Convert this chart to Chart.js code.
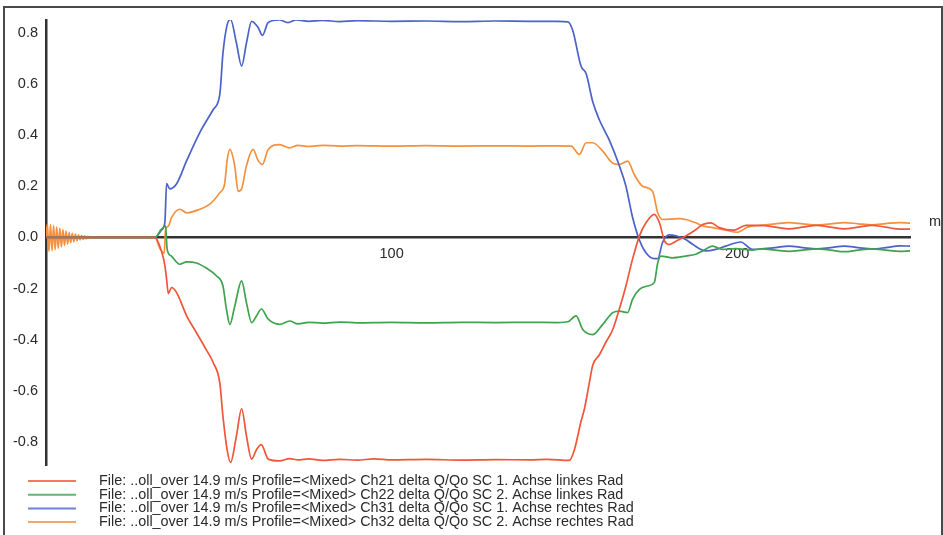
<!DOCTYPE html>
<html>
<head>
<meta charset="utf-8">
<title>delta Q/Qo</title>
<script src="https://cdn.jsdelivr.net/npm/chart.js@4.4.1/dist/chart.umd.min.js"></script>
<style>
  html, body { margin: 0; padding: 0; background: #fff; overflow: hidden; }
  #wrap { position: relative; width: 943px; height: 535px; }
  #frame {
    position: absolute; left: 3px; top: 6px; width: 936px; height: 600px;
    border: 2px solid #4a4a4a; pointer-events: none;
  }
  canvas { position: absolute; left: 0; top: 0; }
</style>
</head>
<body>
<div id="wrap">
  <canvas id="plot" width="943" height="535"></canvas>
  <div id="frame"></div>
</div>
<script>
// distance [m], delta Q/Qo
const ch21 = [
  [0, 0], [31.5, 0], [33.4, -0.053], [34.4, -0.11], [34.9, -0.164], [35.4, -0.22], [36.3, -0.196],
  [37.8, -0.216], [40.7, -0.307], [43.5, -0.372], [46.4, -0.44], [48.4, -0.49], [50.3, -0.57],
  [51.2, -0.70], [52.4, -0.83], [53.4, -0.88], [55.1, -0.776], [56.6, -0.67], [58.0, -0.776],
  [59.5, -0.867], [60.9, -0.83], [62.3, -0.81], [64.3, -0.867], [67.6, -0.874], [70.5, -0.865],
  [72.9, -0.87], [76, -0.866], [80, -0.872], [85, -0.868], [90, -0.871], [95, -0.866], [100, -0.87],
  [110, -0.868], [120, -0.871], [130, -0.869], [140, -0.87], [145, -0.868], [151.4, -0.872],
  [152.9, -0.83], [154.8, -0.72], [155.8, -0.67], [157.2, -0.57], [158.2, -0.50], [160.1, -0.46],
  [162.0, -0.41], [164.0, -0.36], [165.9, -0.28], [167.8, -0.19], [169.7, -0.086], [171.7, 0.005],
  [173.6, 0.057], [176.0, 0.09], [177.5, 0.057], [179.0, -0.015], [180.3, -0.028], [182.3, -0.015],
  [185.1, 0.005], [188.0, 0.03], [190.0, 0.05], [192.4, 0.057], [194.8, 0.038], [199.0, 0.028],
  [202.5, 0.047], [207, 0.047], [211, 0.04], [215, 0.033], [219, 0.04], [223, 0.047], [227, 0.04],
  [231, 0.033], [235, 0.04], [239, 0.047], [243, 0.04], [247, 0.032], [250, 0.032]
];
const ch22 = [
  [0, 0], [31.5, 0], [33.3, 0.03], [34.6, 0.045], [35.0, -0.04], [35.4, -0.062], [36.3, -0.073],
  [38.7, -0.105], [40.7, -0.096], [43.5, -0.1], [46.4, -0.12], [49.3, -0.15], [51.2, -0.19],
  [52.2, -0.28], [53.2, -0.34], [54.6, -0.27], [56.6, -0.17], [58.0, -0.255], [59.5, -0.333],
  [60.9, -0.307], [62.3, -0.28], [64.3, -0.32], [67.6, -0.34], [70.5, -0.327], [72.9, -0.338],
  [76, -0.332], [80, -0.335], [85, -0.331], [90, -0.334], [100, -0.332], [110, -0.334],
  [120, -0.332], [130, -0.333], [140, -0.332], [148, -0.333], [151, -0.33], [153.4, -0.307],
  [155.3, -0.36], [158.2, -0.38], [161.1, -0.34], [164.0, -0.294], [165.9, -0.288], [168.3, -0.294],
  [169.7, -0.242], [171.7, -0.203], [174.1, -0.19], [176.0, -0.177], [177.0, -0.1], [177.9, -0.073],
  [181.3, -0.08], [185.1, -0.073], [188.0, -0.066], [190.0, -0.053], [192.9, -0.034], [195.7, -0.047],
  [199.6, -0.044], [204.4, -0.05], [207, -0.045], [211, -0.05], [215, -0.055], [219, -0.05],
  [223, -0.045], [227, -0.05], [231, -0.056], [235, -0.05], [239, -0.045], [243, -0.05],
  [247, -0.055], [250, -0.053]
];
const ch31 = [
  [0, 0], [31.5, 0], [33.5, 0.03], [34.4, 0.06], [34.9, 0.21], [35.8, 0.19], [37.8, 0.21],
  [40.7, 0.30], [44.5, 0.41], [48.4, 0.50], [50.3, 0.56], [51.2, 0.72], [52.4, 0.83], [53.4, 0.852],
  [55.1, 0.76], [56.6, 0.67], [58.0, 0.76], [59.5, 0.845], [61.4, 0.82], [62.6, 0.79], [64.3, 0.84],
  [67.6, 0.85], [70.0, 0.84], [72.4, 0.85], [76, 0.845], [80, 0.848], [85, 0.844], [90, 0.847],
  [100, 0.845], [110, 0.846], [120, 0.844], [130, 0.846], [140, 0.845], [148, 0.845], [151, 0.843],
  [152.4, 0.81], [154.8, 0.67], [156.3, 0.64], [158.2, 0.53], [160.1, 0.46], [163.0, 0.38],
  [165.9, 0.28], [167.8, 0.20], [169.7, 0.08], [171.7, -0.01], [173.6, -0.06], [176.0, -0.083],
  [177.0, -0.083], [178.4, -0.02], [180.3, 0.01], [182.3, 0.006], [185.1, -0.008], [187.1, -0.027],
  [190.9, -0.053], [193.8, -0.047], [196.7, -0.034], [201, -0.018], [204.4, -0.047], [207, -0.045],
  [211, -0.04], [215, -0.034], [219, -0.04], [223, -0.045], [227, -0.04], [231, -0.034],
  [235, -0.04], [239, -0.045], [243, -0.04], [247, -0.033], [250, -0.034]
];
const ch32 = [
  [0, 0], [0.4, 0.052], [0.85, -0.055], [1.3, 0.05], [1.75, -0.052], [2.2, 0.046], [2.65, -0.048],
  [3.1, 0.041], [3.55, -0.043], [4.0, 0.036], [4.45, -0.037], [4.9, 0.03], [5.35, -0.031],
  [5.8, 0.025], [6.25, -0.026], [6.7, 0.02], [7.15, -0.021], [7.6, 0.016], [8.05, -0.017],
  [8.5, 0.013], [8.95, -0.013], [9.4, 0.01], [9.85, -0.01], [10.3, 0.008], [10.75, -0.008],
  [11.2, 0.006], [11.65, -0.006], [12.1, 0.004], [12.55, -0.004], [13.0, 0.003], [13.45, -0.003],
  [13.9, 0.002], [14.5, 0], [31.5, 0], [33.0, -0.045], [34.2, -0.062], [34.6, 0.03], [35.4, 0.044],
  [36.3, 0.077], [38.7, 0.11], [40.7, 0.096], [44.5, 0.11], [47.4, 0.13], [50.3, 0.175],
  [51.7, 0.21], [52.4, 0.30], [53.2, 0.344], [54.6, 0.28], [55.6, 0.18], [56.6, 0.19], [58.0, 0.28],
  [59.9, 0.344], [61.4, 0.30], [62.6, 0.285], [64.3, 0.344], [67.6, 0.363], [70.5, 0.35],
  [72.9, 0.36], [76, 0.356], [80, 0.36], [85, 0.357], [90, 0.359], [100, 0.357], [110, 0.359],
  [120, 0.357], [130, 0.358], [140, 0.357], [148, 0.358], [152, 0.357], [154.3, 0.324],
  [156.3, 0.37], [158.2, 0.37], [161.1, 0.337], [164.0, 0.29], [165.9, 0.285], [168.3, 0.298],
  [170.2, 0.246], [172.6, 0.20], [175.5, 0.18], [177.0, 0.096], [178.4, 0.07], [183.2, 0.073],
  [185.1, 0.07], [188.0, 0.057], [190.0, 0.045], [192.9, 0.038], [196.7, 0.028], [200.0, 0.02],
  [203.0, 0.04], [207, 0.047], [211, 0.053], [215, 0.058], [219, 0.053], [223, 0.048], [227, 0.053],
  [231, 0.058], [235, 0.053], [239, 0.049], [243, 0.054], [247, 0.058], [250, 0.056]
];

const seriesLabels = [
  "File: ..oll_over 14.9 m/s Profile=<Mixed> Ch21 delta Q/Qo SC 1. Achse linkes Rad",
  "File: ..oll_over 14.9 m/s Profile=<Mixed> Ch22 delta Q/Qo SC 2. Achse linkes Rad",
  "File: ..oll_over 14.9 m/s Profile=<Mixed> Ch31 delta Q/Qo SC 1. Achse rechtes Rad",
  "File: ..oll_over 14.9 m/s Profile=<Mixed> Ch32 delta Q/Qo SC 2. Achse rechtes Rad"
];
const seriesData = [ch21, ch22, ch31, ch32];
const seriesColors = ["#ef563a", "#3ea34d", "#4b62c8", "#f5903e"];
const xTicks = [100, 200];
const yTicks = [-0.8, -0.6, -0.4, -0.2, 0, 0.2, 0.4, 0.6, 0.8];
const unitLabel = "m";

const FONT = '"Liberation Sans", Arial, sans-serif';
const INK = "#2a2a2a";

// legend block under the plot, one row per channel
const channelLegend = {
  id: "channelLegend",
  afterDraw(chart) {
    const { ctx, chartArea } = chart;
    ctx.save();
    ctx.font = "14.4px " + FONT;
    ctx.textBaseline = "middle";
    chart.data.datasets.forEach((ds, i) => {
      const y = chartArea.bottom + 16 + i * 13.7;
      ctx.strokeStyle = ds.borderColor;
      ctx.globalAlpha = 0.8;
      ctx.lineWidth = 2;
      ctx.beginPath();
      ctx.moveTo(28, y);
      ctx.lineTo(76, y);
      ctx.stroke();
      ctx.globalAlpha = 1;
      ctx.fillStyle = INK;
      ctx.fillText(ds.label, 99, y);
    });
    ctx.restore();
  }
};

// unit at the right end of the distance axis
const unitTag = {
  id: "unitTag",
  afterDraw(chart) {
    const { ctx, chartArea, scales } = chart;
    ctx.save();
    ctx.font = "14.5px " + FONT;
    ctx.fillStyle = INK;
    ctx.textBaseline = "middle";
    ctx.fillText(unitLabel, chartArea.right + 19, scales.y.getPixelForValue(0) - 15);
    ctx.restore();
  }
};

new Chart(document.getElementById("plot"), {
  type: "line",
  data: {
    datasets: seriesData.map((pts, i) => ({
      label: seriesLabels[i],
      data: pts.map(p => ({ x: p[0], y: p[1] })),
      borderColor: seriesColors[i],
      backgroundColor: seriesColors[i],
      borderWidth: 1.7,
      pointRadius: 0,
      cubicInterpolationMode: "monotone",
      fill: false
    }))
  },
  options: {
    responsive: false,
    animation: false,
    layout: { padding: { left: 0, right: 33, top: 20, bottom: 70 } },
    plugins: {
      legend: { display: false },
      tooltip: { enabled: false }
    },
    scales: {
      x: {
        type: "linear",
        min: 0,
        max: 250,
        position: { y: 0 },
        grid: { display: false },
        border: { color: "#333", width: 2.5 },
        afterBuildTicks: axis => { axis.ticks = xTicks.map(v => ({ value: v })); },
        ticks: { font: { family: FONT, size: 14.5 }, color: INK, padding: 0, maxRotation: 0 }
      },
      y: {
        type: "linear",
        min: -0.89,
        max: 0.85,
        position: "left",
        afterFit: axis => { axis.width = 46; },
        grid: { display: false },
        border: { color: "#333", width: 2.5 },
        afterBuildTicks: axis => { axis.ticks = yTicks.map(v => ({ value: v })); },
        ticks: {
          font: { family: FONT, size: 14.5 },
          color: INK,
          padding: 0,
          callback: v => v.toFixed(1)
        }
      }
    }
  },
  plugins: [channelLegend, unitTag]
});
</script>
</body>
</html>
